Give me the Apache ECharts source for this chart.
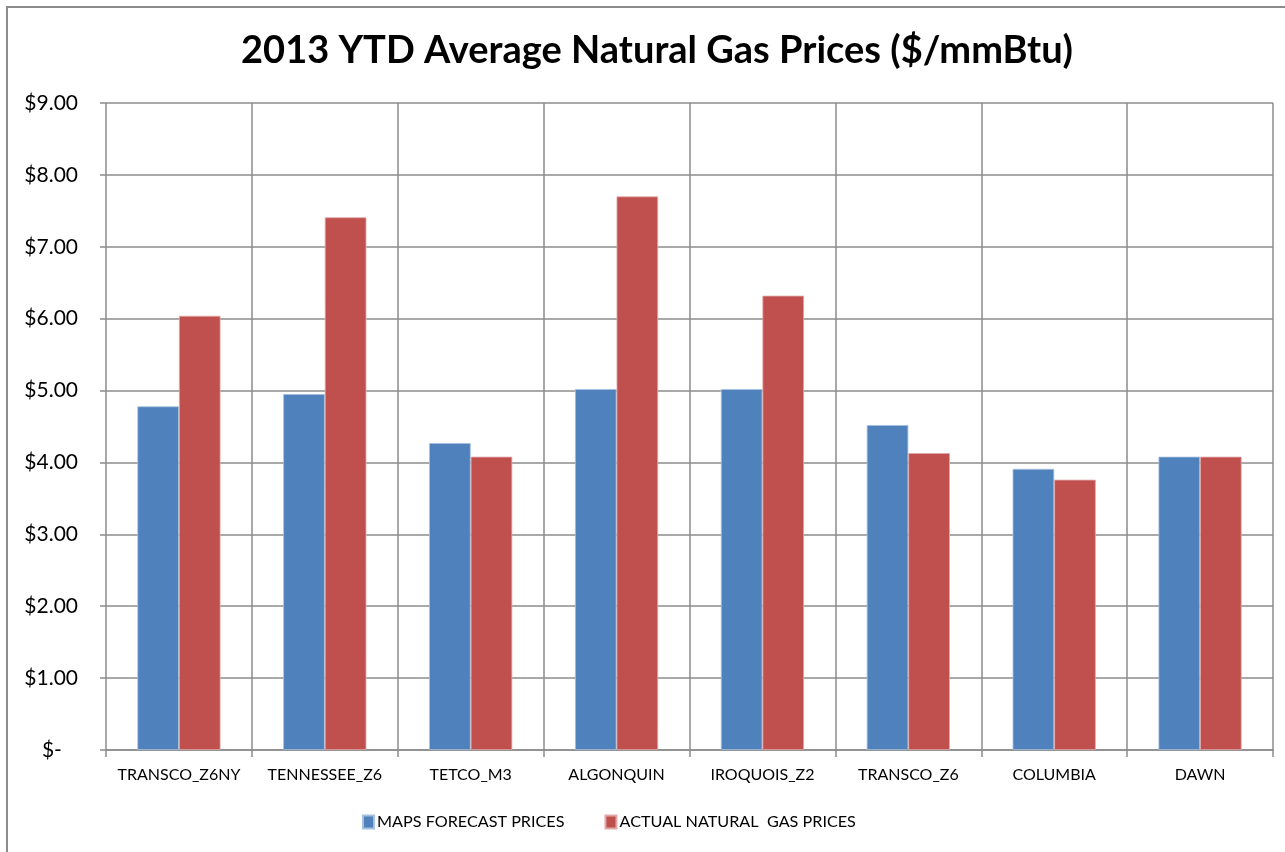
<!DOCTYPE html>
<html>
<head>
    <meta charset="utf-8">
    <script type="text/javascript" src="https://cdn.jsdelivr.net/npm/echarts@6/dist/echarts.min.js"></script>
</head>
<body style="margin: 0; background-color: #ffffff">
<div id="main" style="width: 1285px; height: 852px;"></div>
<script type="text/javascript">
    var hubs     = ['TRANSCO_Z6NY', 'TENNESSEE_Z6', 'TETCO_M3', 'ALGONQUIN', 'IROQUOIS_Z2', 'TRANSCO_Z6', 'COLUMBIA', 'DAWN'];
    var forecast = [4.78, 4.95, 4.27, 5.02, 5.02, 4.52, 3.91, 4.08];
    var actual   = [6.04, 7.41, 4.08, 7.70, 6.32, 4.13, 3.76, 4.08];
    var seriesNames = ['MAPS FORECAST PRICES', 'ACTUAL NATURAL  GAS PRICES'];

    var font = 'Lato';
    var gridColor = '#8c8c8c';

    var myChart = echarts.init(document.getElementById('main'));
    var option = {
        animation: false,
        textStyle: { fontFamily: font },
        title: {
            text: '2013 YTD Average Natural Gas Prices ($/mmBtu)',
            left: 652,
            textAlign: 'center',
            top: 27,
            textStyle: { fontFamily: font, fontSize: 38, fontWeight: 'bold', color: '#000' }
        },
        graphic: [{
            type: 'rect',
            shape: { x: 7, y: 7, width: 1400, height: 1000 },
            style: { fill: 'none', stroke: '#8c8c8c', lineWidth: 2 }
        }],
        legend: {
            bottom: 17,
            left: 357,
            itemWidth: 11,
            itemHeight: 13,
            itemGap: 40,
            icon: 'rect',
            textStyle: { fontFamily: font, fontSize: 16.2, color: '#000', padding: [0, 0, 0, -2] },
            data: seriesNames
        },
        grid: { left: 106, right: 12, top: 103, bottom: 102 },
        xAxis: {
            type: 'category',
            data: hubs,
            axisLine: { lineStyle: { color: gridColor, width: 1.5 } },
            axisTick: { show: true, length: 7, lineStyle: { color: gridColor, width: 1.5 } },
            axisLabel: { color: '#000', fontSize: 16, margin: 17, interval: 0 },
            splitLine: { show: true, interval: 0, lineStyle: { color: gridColor, width: 1.5 } }
        },
        yAxis: {
            type: 'value',
            min: 0,
            max: 9,
            interval: 1,
            axisLine: { show: false },
            axisTick: { show: true, length: 6, lineStyle: { color: gridColor, width: 1.5 } },
            axisLabel: {
                color: '#000',
                fontSize: 21,
                margin: 28,
                formatter: function (v) {
                    return v === 0 ? '$-   ' : '$' + v.toFixed(2);
                }
            },
            splitLine: { lineStyle: { color: gridColor, width: 1.5 } }
        },
        series: [{
            name: seriesNames[0],
            type: 'bar',
            data: forecast,
            barGap: '0%',
            barCategoryGap: '43%',
            itemStyle: { color: '#4f81bd', borderColor: '#a7c0de', borderWidth: 0.8 }
        }, {
            name: seriesNames[1],
            type: 'bar',
            data: actual,
            itemStyle: { color: '#c0504d', borderColor: '#e0a9a7', borderWidth: 0.8 }
        }]
    };
    myChart.setOption(option);
</script>
</body>
</html>
